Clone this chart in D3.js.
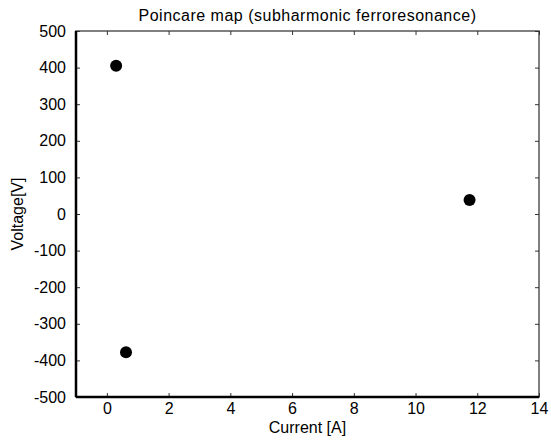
<!DOCTYPE html>
<html>
<head>
<meta charset="utf-8">
<script src="https://cdn.jsdelivr.net/npm/d3@7"></script>
<style>
  body { margin: 0; background: #fff; }
  text { font-family: "Liberation Sans", Arial, sans-serif; fill: #000; }
</style>
</head>
<body>
<div id="chart"></div>
<script>
// Poincare map points (current A, voltage V)
const currents = [0.3, 0.62, 11.75];
const voltages = [405, -378, 38];
const xTicks = [0, 2, 4, 6, 8, 10, 12, 14];
const yTicks = [-500, -400, -300, -200, -100, 0, 100, 200, 300, 400, 500];

const width = 551, height = 441;
const margin = { top: 31, right: 12, bottom: 44, left: 76 };
const w = width - margin.left - margin.right;
const h = height - margin.top - margin.bottom;
const fontSize = '16px';

const svg = d3.select('#chart').append('svg')
    .attr('width', width)
    .attr('height', height);

const g = svg.append('g')
    .attr('transform', `translate(${margin.left},${margin.top})`);

const x = d3.scaleLinear().domain([-1, 14]).range([0, w]);
const y = d3.scaleLinear().domain([-500, 500]).range([h, 0]);

// frame: top/right lighter
g.append('rect')
    .attr('x', 0).attr('y', 0)
    .attr('width', w).attr('height', h)
    .attr('fill', 'none')
    .attr('stroke', '#555')
    .attr('stroke-width', 1.5);

// inward ticks on all four sides, plain hyphen for negatives
const tickLen = 4;
const fmt = d => String(d);
const styleAxis = sel => {
    sel.select('.domain').remove();
    sel.selectAll('.tick line').attr('stroke', '#333');
    sel.selectAll('.tick text').attr('font-size', fontSize).attr('fill', '#000');
};

g.append('g')
    .attr('transform', `translate(0,${h})`)
    .call(d3.axisBottom(x).tickValues(xTicks).tickSize(-tickLen).tickPadding(5.5).tickFormat(fmt))
    .call(styleAxis);

g.append('g')
    .call(d3.axisTop(x).tickValues(xTicks).tickSize(-tickLen).tickFormat(''))
    .call(styleAxis);

g.append('g')
    .call(d3.axisLeft(y).tickValues(yTicks).tickSize(-tickLen).tickPadding(10).tickFormat(fmt))
    .call(styleAxis);

g.append('g')
    .attr('transform', `translate(${w},0)`)
    .call(d3.axisRight(y).tickValues(yTicks).tickSize(-tickLen).tickFormat(''))
    .call(styleAxis);

// heavier left and bottom spines
g.append('line')
    .attr('x1', 0).attr('x2', 0).attr('y1', 0).attr('y2', h)
    .attr('stroke', '#000').attr('stroke-width', 2.5);
g.append('line')
    .attr('x1', 0).attr('x2', w).attr('y1', h).attr('y2', h)
    .attr('stroke', '#000').attr('stroke-width', 2.5);

// points
g.selectAll('circle.pt')
    .data(currents.map((c, i) => ({ c, v: voltages[i] })))
    .enter().append('circle')
    .attr('class', 'pt')
    .attr('cx', d => x(d.c))
    .attr('cy', d => y(d.v))
    .attr('r', 6)
    .attr('fill', '#000');

// title and labels
svg.append('text')
    .attr('x', margin.left + w / 2)
    .attr('y', 21)
    .attr('text-anchor', 'middle')
    .attr('font-size', fontSize)
    .attr('letter-spacing', '0.5px')
    .text('Poincare map (subharmonic ferroresonance)');

svg.append('text')
    .attr('x', margin.left + w / 2)
    .attr('y', 433)
    .attr('text-anchor', 'middle')
    .attr('font-size', fontSize)
    .text('Current [A]');

svg.append('text')
    .attr('transform', `translate(23,${margin.top + h / 2}) rotate(-90)`)
    .attr('text-anchor', 'middle')
    .attr('font-size', fontSize)
    .text('Voltage[V]');
</script>
</body>
</html>
